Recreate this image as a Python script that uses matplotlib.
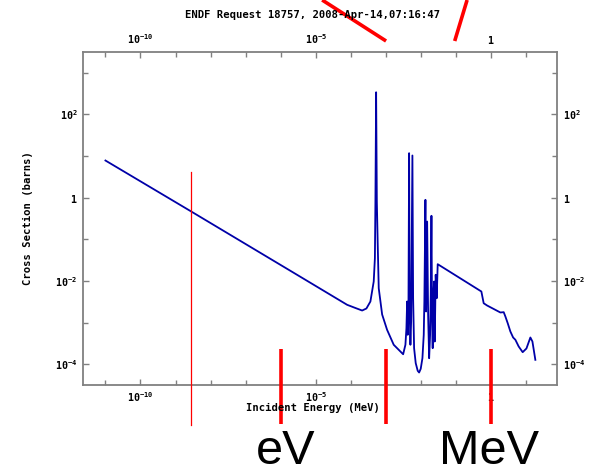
"""ENDF cross-section plot with red energy-scale annotations."""

import math

import matplotlib
matplotlib.use("Agg")
import matplotlib.pyplot as plt
from matplotlib.lines import Line2D
from matplotlib.ticker import FixedLocator, FuncFormatter, NullFormatter

# ---------------------------------------------------------------------------
# Data
# ---------------------------------------------------------------------------

TITLE = "ENDF Request 18757, 2008-Apr-14,07:16:47"
X_LABEL = "Incident Energy (MeV)"
Y_LABEL = "Cross Section (barns)"

energy_mev = [
    1.00e-11, 2.55e-9, 1.89e-6, 7.83e-5, 1.35e-4, 2.10e-4, 2.78e-4, 3.61e-4,
    4.49e-4, 4.85e-4, 5.02e-4, 5.26e-4, 5.51e-4, 5.83e-4, 6.24e-4, 7.80e-4,
    1.08e-3, 1.67e-3, 3.10e-3,
    3.60e-3, 3.85e-3, 4.03e-3, 4.19e-3, 4.39e-3, 4.59e-3, 4.78e-3, 5.00e-3,
    5.24e-3, 5.70e-3, 5.97e-3, 6.37e-3, 7.08e-3, 8.07e-3, 8.85e-3, 9.84e-3,
    1.10e-2, 1.20e-2, 1.25e-2, 1.34e-2, 1.40e-2, 1.50e-2, 1.60e-2, 1.71e-2,
    1.82e-2, 1.90e-2, 1.99e-2, 2.08e-2, 2.16e-2, 2.26e-2, 2.37e-2, 2.47e-2,
    2.63e-2, 2.81e-2, 3.00e-2,
    0.528, 0.615, 0.769, 1.84, 2.29, 2.56, 2.98, 3.55, 4.25, 4.93, 6.12,
    7.96, 10.2, 13.2, 15.1, 18.3,
]
xs_barns = [
    7.73, 0.484, 0.0174, 2.66e-3, 2.23e-3, 1.94e-3, 2.17e-3, 3.19e-3,
    9.64e-3, 0.0349, 0.80, 336.0, 0.80, 0.080, 6.65e-3, 1.56e-3,
    6.68e-4, 2.92e-4, 1.73e-4,
    2.92e-4, 7.31e-4, 3.19e-3, 5.07e-4, 1.53e-3, 11.6, 1.53e-3, 2.92e-4,
    1.06e-3, 10.2, 3.83e-3, 2.42e-4, 1.06e-4, 6.94e-5, 6.31e-5, 7.74e-5,
    1.39e-4, 5.07e-4, 3.19e-3, 0.88, 1.84e-3, 0.265, 1.53e-3, 1.39e-4,
    5.07e-4, 4.62e-3, 0.364, 1.06e-3, 2.42e-4, 4.62e-3, 9.64e-3, 3.50e-4,
    1.40e-2, 3.83e-3, 0.0251,
    5.55e-3, 2.90e-3, 2.56e-3, 1.74e-3, 1.77e-3, 1.39e-3, 9.62e-4, 6.08e-4,
    4.37e-4, 3.85e-4, 2.66e-4, 1.94e-4, 2.38e-4, 4.37e-4, 3.50e-4, 1.27e-4,
]

x_major = [1e-10, 1e-5, 1.0]
x_minor = [1e-11, 1e-9, 1e-8, 1e-7, 1e-6, 1e-4, 1e-3, 1e-2, 1e-1, 1e1]
y_major = [1e-4, 1e-2, 1.0, 1e2]
y_minor = [1e-3, 1e-1, 1e1, 1e3]

# red overlay marks (energies in MeV)
marker_energies = [1e-6, 1e-3, 1.0]        # eV / keV / MeV bars
thin_line_energy = 2.7e-9
arrow_lines = [(1.52e-5, 1.01e-3), (0.207, 0.0917)]
unit_labels = ["eV", "MeV"]

# ---------------------------------------------------------------------------
# Style
# ---------------------------------------------------------------------------

W, H = 594, 466
FRAME = "#808080"
CURVE = "#0000a8"
MONO = "DejaVu Sans Mono"

plt.rcParams["mathtext.fontset"] = "custom"
plt.rcParams["mathtext.rm"] = "DejaVu Sans Mono:bold"
plt.rcParams["mathtext.bf"] = "DejaVu Sans Mono:bold"


def px(x, y):
    """Pixel position -> figure fraction."""
    return x / W, 1 - y / H


def tick_fmt(v, _pos):
    exp = int(round(math.log10(v)))
    if exp == 0:
        return r"$1$"
    return rf"$10^{{{exp}}}$"


# ---------------------------------------------------------------------------
# Figure
# ---------------------------------------------------------------------------

fig = plt.figure(figsize=(W / 100, H / 100), dpi=100)
left, right = 83 / W, 557 / W
bottom, top = 1 - 385 / H, 1 - 51.7 / H
ax = fig.add_axes([left, bottom, right - left, top - bottom])

ax.plot(energy_mev, xs_barns, color=CURVE, linewidth=1.3, zorder=3)

ax.set_xscale("log")
ax.set_yscale("log")
ax.set_xlim(10 ** -11.64, 10 ** 1.88)
ax.set_ylim(10 ** -4.5, 10 ** 3.5)

for axis, major, minor in ((ax.xaxis, x_major, x_minor), (ax.yaxis, y_major, y_minor)):
    axis.set_major_locator(FixedLocator(major))
    axis.set_minor_locator(FixedLocator(minor))
    axis.set_major_formatter(FuncFormatter(tick_fmt))
    axis.set_minor_formatter(NullFormatter())

ax.tick_params(which="both", direction="in", top=True, right=True,
               labeltop=True, labelright=True, color=FRAME, width=1.0,
               labelsize=7.2, pad=4)
ax.tick_params(which="major", length=4.5)
ax.tick_params(which="minor", length=3.5)
for spine in ax.spines.values():
    spine.set_color(FRAME)
    spine.set_linewidth(1.3)

text_kw = dict(family=MONO, weight="bold", fontsize=7.6, ha="center", va="center")
fig.text(*px(312, 15), TITLE, **text_kw)
fig.text(*px(312.5, 408), X_LABEL, **text_kw)
fig.text(*px(27.5, 218.5), Y_LABEL, rotation=90, **text_kw)

# ---------------------------------------------------------------------------
# Red annotations
# ---------------------------------------------------------------------------

xt = ax.get_xaxis_transform()   # x in data, y in axes fraction
ax_h = 385 - 51.7


def ay(y_px):
    return (385 - y_px) / ax_h


for e in marker_energies:
    ax.add_line(Line2D([e, e], [ay(349), ay(424)], transform=xt, color="red",
                       linewidth=2.6, clip_on=False, zorder=5,
                       solid_capstyle="butt"))

ax.add_line(Line2D([thin_line_energy] * 2, [ay(172), ay(425)], transform=xt,
                   color="red", linewidth=0.9, clip_on=False, zorder=4))

for e_top, e_axis in arrow_lines:
    ax.add_line(Line2D([e_top, e_axis], [ay(0), ay(41)], transform=xt,
                       color="red", linewidth=2.6, clip_on=False, zorder=5,
                       solid_capstyle="butt"))

big_kw = dict(family="Liberation Sans", fontsize=35, ha="center", va="baseline")
fig.text(*px(285.5, 464), unit_labels[0], **big_kw)
fig.text(*px(489, 464), unit_labels[1], **big_kw)

fig.savefig("out.png", dpi=100)
